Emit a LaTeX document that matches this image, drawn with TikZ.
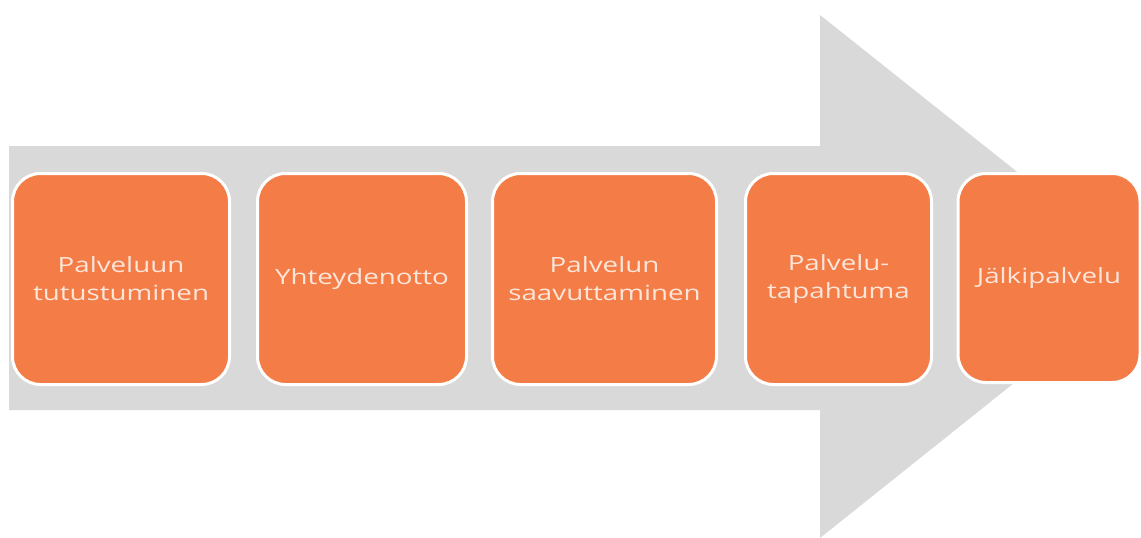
\documentclass[tikz,border=0pt]{standalone}
\usepackage{fontspec}
\setmainfont{Open Sans}
\newfontfamily\stagefont[FakeStretch=1.32]{Open Sans}
\definecolor{arrowgrey}{HTML}{D9D9D9}
\definecolor{boxorange}{HTML}{F37C47}
\definecolor{boxtext}{HTML}{FCE6DA}
\begin{document}
\begin{tikzpicture}[x=1pt,y=-1pt,
  stagebox/.style={draw=white, line width=3pt, fill=boxorange, rounded corners=28pt,
    text=boxtext, align=center, font=\stagefont\fontsize{21}{28}\selectfont, inner sep=0pt}]
\useasboundingbox (0,0) rectangle (1141,538);
\begin{scope}
\clip (0,0) rectangle (1141,538);
\fill[arrowgrey] (9,146) -- (820,146) -- (820,15) -- (1148,276) -- (820,538) -- (820,410) -- (9,410) -- cycle;
\end{scope}
\node[stagebox, minimum width=217pt, minimum height=211pt] (s1) at (121,279) {Palveluun\\tutustuminen};
\node[stagebox, minimum width=209pt, minimum height=211pt] (s2) at (362,279) {Yhteydenotto};
\node[stagebox, minimum width=224pt, minimum height=211pt] (s3) at (604.5,279) {Palvelun\\saavuttaminen};
\node[stagebox, minimum width=186pt, minimum height=211pt] (s4) at (838.5,279) {Palvelu-\\tapahtuma};
\node[stagebox, minimum width=182pt, minimum height=209pt] (s5) at (1049,278) {Jälkipalvelu};
\end{tikzpicture}
\end{document}
